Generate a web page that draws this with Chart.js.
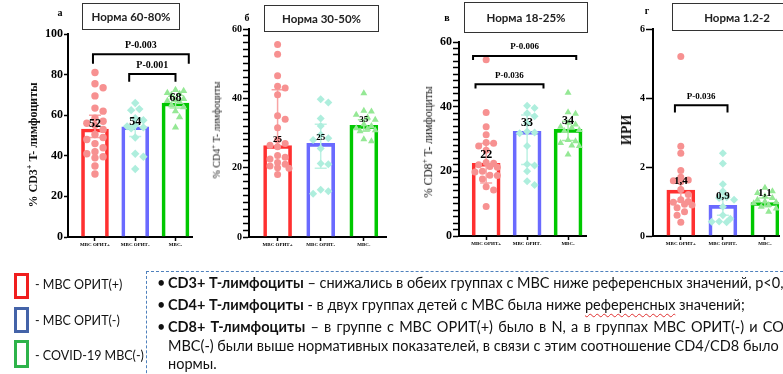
<!DOCTYPE html>
<html>
<head>
<meta charset="utf-8">
<script src="https://cdn.jsdelivr.net/npm/chart.js@4/dist/chart.umd.min.js"></script>
<style>
  body { margin: 0; width: 783px; height: 374px; overflow: hidden; background: #fff; position: relative; font-family: Lato, 'Liberation Sans', sans-serif; }
  canvas { position: absolute; top: 0; }
  .norm { position: absolute; border: 1px solid #333; box-sizing: border-box; font: bold 11.5px Lato, sans-serif; display: flex; align-items: center; justify-content: center; color: #222; }
  .let { position: absolute; font: bold 10px 'Liberation Serif', serif; transform: translate(-50%, -50%); }
  .ytitle { position: absolute; transform: translate(-50%, -50%) rotate(-90deg); white-space: nowrap; font-family: 'Liberation Serif', serif; color: #111; }
  .ytitle sup { font-size: 70%; }
  .lg { position: absolute; left: 14px; width: 15px; box-sizing: border-box; border: 3px solid; }
  .lgt { position: absolute; left: 35px; font-size: 12.5px; line-height: 16px; white-space: nowrap; color: #111; }
  .box { position: absolute; left: 146px; top: 271px; width: 700px; height: 120px; border: 1px dashed #4f81bd; }
  .ln { position: absolute; left: 157px; white-space: nowrap; font-size: 14.5px; line-height: 18px; color: #111; }
  .ln .b { display: inline-block; width: 11px; }
  .sq { text-decoration: underline wavy #e03030; text-decoration-thickness: 1px; text-underline-offset: 3px; }
</style>
</head>
<body>
<canvas id="cA" width="200" height="258" style="left:0px"></canvas>
<canvas id="cB" width="190" height="258" style="left:200px"></canvas>
<canvas id="cC" width="200" height="258" style="left:390px"></canvas>
<canvas id="cD" width="193" height="258" style="left:590px"></canvas>

<div class="let" style="left:60px;top:12px">а</div>
<div class="let" style="left:247px;top:17px">б</div>
<div class="let" style="left:447px;top:17px">в</div>
<div class="let" style="left:647px;top:10px">г</div>

<div class="norm" style="left:82px;top:3px;width:98px;height:27px">Норма 60-80%</div>
<div class="norm" style="left:264px;top:5px;width:115px;height:27px">Норма 30-50%</div>
<div class="norm" style="left:464px;top:2px;width:124px;height:31px">Норма 18-25%</div>
<div class="norm" style="left:672px;top:3px;width:130px;height:28px">Норма 1.2-2</div>

<div class="ytitle" style="left:33px;top:145px;font-size:12px;font-weight:bold">% CD3<sup>+</sup> T- лимфоциты</div>
<div class="ytitle" style="left:216px;top:130px;font-size:10px">% CD4<sup>+</sup> T- лимфоциты</div>
<div class="ytitle" style="left:427px;top:142px;font-size:11.5px">% CD8<sup>+</sup> T- лимфоциты</div>
<div class="ytitle" style="left:627px;top:130px;font-size:14px;font-weight:bold">ИРИ</div>

<div class="lg" style="top:273px;height:26px;border-color:#f01e1e"></div>
<div class="lg" style="top:307px;height:26px;border-color:#4463a8"></div>
<div class="lg" style="top:340px;height:28px;border-color:#2db34a"></div>
<div class="lgt" style="top:277px">- МВС ОРИТ(+)</div>
<div class="lgt" style="top:313px">- МВС ОРИТ(-)</div>
<div class="lgt" style="top:348px">- COVID-19 МВС(-)</div>

<div class="box"></div>
<div class="ln" style="top:274px"><span class="b">•</span><b>CD3+ Т-лимфоциты</b> – снижались в обеих группах с МВС ниже референсных значений, p&lt;0,05;</div>
<div class="ln" style="top:296px"><span class="b">•</span><b>CD4+ Т-лимфоциты</b> - в двух группах детей с МВС была ниже <span class="sq">референсных</span> значений;</div>
<div class="ln" style="top:318px;word-spacing:1.5px"><span class="b">•</span><b>CD8+ Т-лимфоциты</b> – в группе с МВС ОРИТ(+) было в N, а в группах МВС ОРИТ(-) и COVID-19</div>
<div class="ln" style="top:337px;left:168px">МВС(-) были выше нормативных показателей, в связи с этим соотношение CD4/CD8 было ниже</div>
<div class="ln" style="top:355px;left:168px">нормы.</div>

<script>
const groups = ['МВС ОРИТ+', 'МВС ОРИТ-', 'МВС-'];

// а: CD3+
const cd3Means = [53.2, 54.3, 66];
const cd3Err = [[49, 60], [49.5, 58.5], [63.5, 68]];
const cd3Labels = ['52', '54', '68'];
const cd3Orit = [81, 75.5, 73.5, 69.5, 63.5, 62, 58.5, 57, 56, 55, 53, 50.5, 49, 48, 46, 44, 42, 41, 39.5, 39, 35, 31];
const cd3NoOrit = [66, 63, 62.5, 58.5, 57.5, 55, 54.5, 54, 53.5, 49, 41, 39.5, 33.5];
const cd3Covid = [72.5, 72, 71, 70.5, 70, 68, 67.5, 67, 66.5, 65, 64, 62, 59, 54];
// [text, from, to, line value, leg end value]
const cd3P = [['P-0.003', -0.05, 2.33, 90, 85.4], ['P-0.001', 0.85, 2.0, 80.3, 76.5]];

// б: CD4+
const cd4Means = [26.4, 27, 32.2];
const cd4Err = [[null, 42.5], [19.8, 32.5], [30.5, 33.8]];
const cd4Labels = ['25', '25', '35'];
const cd4Orit = [55.5, 52.7, 46.5, 43.5, 43, 41, 35, 34, 31.5, 28, 27, 26.5, 26, 23.5, 23, 22.5, 21.5, 21, 20.5, 20, 19.8, 18];
const cd4NoOrit = [39.7, 38.8, 34.2, 32, 29.5, 28.5, 28, 25.5, 21.2, 21, 13.6, 13.2, 12.5];
const cd4Covid = [41.5, 36.4, 36.2, 35.3, 34.5, 33.8, 32.5, 32, 31.4, 31.2, 30.8, 30.5, 28.2, 27.6];
const cd4P = [];

// в: CD8+
const cd8Means = [22.5, 32.4, 33];
const cd8Err = [[16.4, 28.6], [22.1, 37.4], [29.5, 35.5]];
const cd8Labels = ['22', '33', '34'];
const cd8Orit = [54.5, 38.2, 33.8, 31.3, 28.9, 28.7, 27.8, 26.5, 22.7, 22.5, 22, 21.5, 21.3, 20, 19.8, 18.8, 18.7, 17.6, 15.2, 14.2, 9.1];
const cd8NoOrit = [40.3, 39.6, 38, 37, 34.8, 32.3, 32, 31.8, 27.8, 22.2, 21.8, 20, 16.9, 15.8];
const cd8Covid = [44.3, 38.3, 37.8, 35, 34.5, 33.8, 33.5, 32.8, 32.5, 29.7, 29.3, 28.8, 28, 27.8, 25.2];
const cd8P = [['P-0.006', -0.32, 2.2, 55.7, 54.4], ['P-0.036', -0.26, 1.4, 46.9, 45.6]];

// г: ИРИ
const iriMeans = [1.33, 0.89, 0.97];
const iriErr = [[1.0, 1.65], [0.6, 1.2], [0.85, 1.1]];
const iriLabels = ['1,4', '0,9', '1,1'];
const iriOrit = [5.2, 2.6, 2.4, 1.9, 1.7, 1.62, 1.6, 1.57, 1.35, 1.2, 1.05, 1.0, 0.98, 0.92, 0.9, 0.82, 0.7, 0.6, 0.4];
const iriNoOrit = [2.4, 2.1, 1.5, 1.3, 1.12, 1.1, 1.05, 0.85, 0.6, 0.5, 0.42, 0.41, 0.4];
const iriCovid = [1.4, 1.3, 1.25, 1.15, 1.1, 1.05, 1.0, 0.98, 0.95, 0.9, 0.85, 0.8, 0.7];
const iriP = [['P-0.036', -0.14, 1.11, 3.79, 3.58]];

const barColors = ['#ff3030', '#6a6aff', '#00c800'];
const ptColors = ['#f79191', '#aeeedd', '#95e895'];
const errColors = ['#f8a4a4', '#bdf1e3', '#a6eba6'];
const shapes = ['circle', 'rectRot', 'triangle'];
const serif = 'Liberation Serif';

// spread points sideways so they don't overlap (simple beeswarm)
function swarm(vals, g, pxX, pxY, r) {
  const placed = [];
  return vals.map(v => {
    const py = v * pxY;
    let best = 0, bestD = -1;
    for (let k = 0; k < 13; k++) {
      const off = (k % 2 ? 1 : -1) * Math.ceil(k / 2) * r * 1.1;
      if (Math.abs(off) > 12) continue;
      const d = placed.reduce((m, p) => Math.min(m, Math.hypot(p[0] - off, p[1] - py)), 99);
      if (d >= r * 1.9) { best = off; bestD = d; break; }
      if (d > bestD) { best = off; bestD = d; }
    }
    placed.push([best, py]);
    return { x: g + best / pxX, y: v };
  });
}

function makeChart(p, means, err, labels, series, brackets) {
  const H = 258, xH = 14;
  const [aL, aR, aT, aB] = p.area;
  const pxY = (aB - aT) / p.yMax;
  const pxX = (aR - aL) / (p.xMax - p.xMin);

  const decor = {
    id: 'decor',
    afterDatasetDraw(chart, args) {
      if (args.index !== 0) return;
      const { ctx, scales: { x, y } } = chart;
      ctx.save();
      ctx.lineWidth = 1.5;
      err.forEach(([lo, hi], i) => {
        const cx = x.getPixelForValue(i);
        const yHi = y.getPixelForValue(hi);
        const yLo = y.getPixelForValue(lo === null ? means[i] : lo);
        ctx.strokeStyle = errColors[i];
        ctx.beginPath();
        ctx.moveTo(cx, yLo); ctx.lineTo(cx, yHi);
        ctx.moveTo(cx - 6, yHi); ctx.lineTo(cx + 6, yHi);
        if (lo !== null) { ctx.moveTo(cx - 6, yLo); ctx.lineTo(cx + 6, yLo); }
        ctx.stroke();
      });
      ctx.restore();
    },
    afterDatasetsDraw(chart) {
      const { ctx, scales: { x, y } } = chart;
      ctx.save();
      ctx.fillStyle = '#000';
      ctx.textAlign = 'center';
      ctx.textBaseline = 'middle';
      ctx.font = 'bold ' + p.valFont + 'px "' + serif + '"';
      labels.forEach((t, i) => {
        ctx.fillText(t, x.getPixelForValue(i), y.getPixelForValue(means[i]) - p.valGap);
      });
      ctx.strokeStyle = '#000';
      ctx.lineWidth = 2;
      ctx.font = 'bold ' + p.pFont + 'px "' + serif + '"';
      brackets.forEach(([t, a, b, v, leg]) => {
        const x1 = x.getPixelForValue(a), x2 = x.getPixelForValue(b);
        const yl = y.getPixelForValue(v), ye = y.getPixelForValue(leg);
        ctx.beginPath();
        ctx.moveTo(x1, ye); ctx.lineTo(x1, yl); ctx.lineTo(x2, yl); ctx.lineTo(x2, ye);
        ctx.stroke();
        ctx.fillText(t, (x1 + x2) / 2, yl - 9);
      });
      ctx.restore();
    }
  };

  new Chart(document.getElementById(p.id), {
    type: 'bar',
    data: {
      datasets: [
        {
          type: 'bar',
          data: means.map((v, i) => ({ x: i, y: v })),
          backgroundColor: 'rgba(255,255,255,0)',
          borderColor: barColors,
          borderWidth: 3,
          barThickness: p.barW,
          order: 2
        },
        ...series.map((vals, g) => ({
          type: 'scatter',
          data: swarm(vals, g, pxX, pxY, p.r),
          pointStyle: shapes[g],
          pointRadius: g === 0 ? p.r : p.r + 0.5,
          backgroundColor: ptColors[g],
          borderWidth: 0,
          clip: false,
          order: 1
        }))
      ]
    },
    options: {
      responsive: false,
      animation: false,
      events: [],
      layout: { padding: { left: 0, right: p.w - aR, top: aT, bottom: H - aB - xH } },
      plugins: { legend: { display: false }, tooltip: { enabled: false } },
      scales: {
        x: {
          type: 'linear',
          offset: false,
          min: p.xMin,
          max: p.xMax,
          afterFit: s => { s.height = xH; },
          afterBuildTicks: s => { s.ticks = groups.map((g, i) => ({ value: i })); },
          border: { color: '#000', width: 2 },
          grid: { offset: false, drawOnChartArea: false, tickLength: 4, tickColor: '#000', tickWidth: 1.5 },
          ticks: {
            autoSkip: false, maxRotation: 0, padding: 1, color: '#000',
            font: { family: serif, weight: 'bold', size: 5 },
            callback: v => groups[v]
          }
        },
        y: {
          type: 'linear',
          offset: false,
          min: 0,
          max: p.yMax,
          afterFit: s => { s.width = aL; },
          afterBuildTicks: s => {
            const t = [];
            for (let i = 0; i * p.yStep <= p.yMax + 1e-9; i++) t.push({ value: +(i * p.yStep).toFixed(6) });
            s.ticks = t;
          },
          border: { color: '#000', width: 2 },
          grid: { offset: false, drawOnChartArea: false, tickLength: p.tickLen, tickColor: '#000', tickWidth: 1.5 },
          ticks: {
            autoSkip: false, padding: 1, color: '#000',
            font: { family: serif, weight: 'bold', size: p.yFont },
            callback: v => (Math.abs(v % p.yMajor) < 1e-9 ? String(v) : '')
          }
        }
      }
    },
    plugins: [decor]
  });
}

makeChart({ id: 'cA', w: 200, area: [68, 192, 34, 237], yMax: 100, yStep: 20, yMajor: 20, tickLen: 4, yFont: 12,
  xMin: -0.67, xMax: 2.41, barW: 27, valFont: 12, valGap: 5, pFont: 10, r: 3.7 },
  cd3Means, cd3Err, cd3Labels, [cd3Orit, cd3NoOrit, cd3Covid], cd3P);

makeChart({ id: 'cB', w: 190, area: [49, 188, 29, 237], yMax: 60, yStep: 2, yMajor: 20, tickLen: 6, yFont: 10,
  xMin: -0.663, xMax: 2.514, barW: 28, valFont: 9, valGap: 6, pFont: 9, r: 3.5 },
  cd4Means, cd4Err, cd4Labels, [cd4Orit, cd4NoOrit, cd4Covid], cd4P);

makeChart({ id: 'cC', w: 200, area: [69, 200, 42, 236], yMax: 60, yStep: 2, yMajor: 20, tickLen: 6, yFont: 12,
  xMin: -0.663, xMax: 2.438, barW: 28, valFont: 12, valGap: 8, pFont: 9, r: 3.5 },
  cd8Means, cd8Err, cd8Labels, [cd8Orit, cd8NoOrit, cd8Covid], cd8P);

makeChart({ id: 'cD', w: 193, area: [63, 193, 29, 236], yMax: 6, yStep: 2, yMajor: 2, tickLen: 7, yFont: 10,
  xMin: -0.661, xMax: 2.334, barW: 28, valFont: 11, valGap: 9, pFont: 9, r: 3.5 },
  iriMeans, iriErr, iriLabels, [iriOrit, iriNoOrit, iriCovid], iriP);
</script>
</body>
</html>
